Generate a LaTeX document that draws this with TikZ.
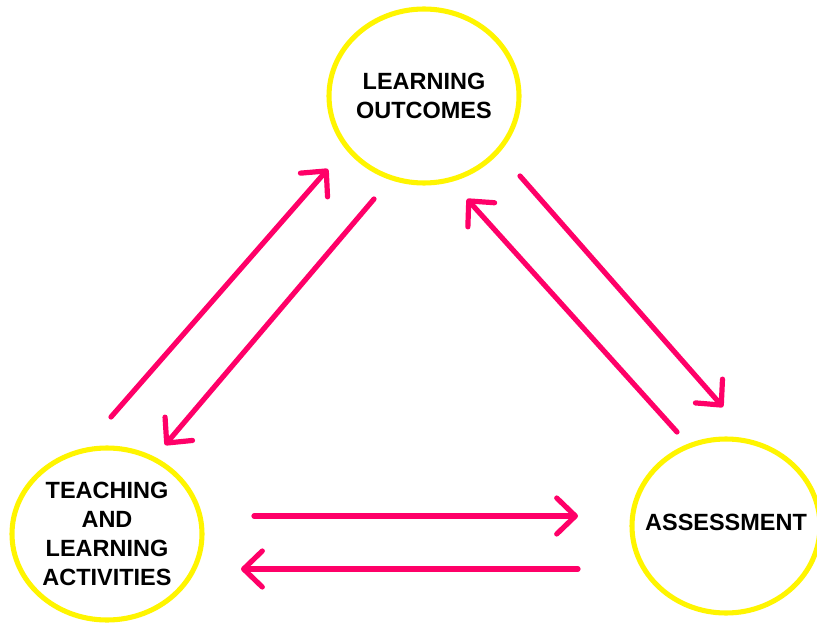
\documentclass[tikz,border=0pt]{standalone}
\usepackage{fontspec}
\setmainfont{Liberation Sans}
\usetikzlibrary{shapes.geometric,arrows.meta}
\definecolor{ringyellow}{RGB}{255,245,0}
\definecolor{flowpink}{RGB}{255,0,104}
\begin{document}
\begin{tikzpicture}[x=0.75pt,y=-0.75pt,
  stage/.style={ellipse,draw=ringyellow,line width=3.8pt,inner sep=0pt},
  stagetext/.style={align=center,inner sep=0pt,
    font=\fontsize{17.6pt}{21.6pt}\selectfont\bfseries},
  flow/.style={draw=flowpink,line width=3.9pt,line cap=round,
    -{Straight Barb[length=14pt,width=27pt,round]}}]
\useasboundingbox (0,0) rectangle (817,624);
\fill[white] (0,0) rectangle (817,624);

% the three stages: rings, then their captions
\node[stage,minimum width=142.5pt,minimum height=130.5pt] (lo) at (424,96) {};
\node[stage,minimum width=142.5pt,minimum height=129pt] (tla) at (107,534) {};
\node[stage,minimum width=141pt,minimum height=130.5pt] (as) at (726,526) {};

\node[stagetext] (loText) at (lo) {LEARNING\\OUTCOMES};
\node[stagetext] (tlaText) at (tla) {TEACHING\\AND\\LEARNING\\ACTIVITIES};
\node[stagetext,yshift=3pt] (asText) at (as) {ASSESSMENT};

% connector end points
\coordinate (tlaUp)   at (111,417);
\coordinate (loIn1)   at (328,169);
\coordinate (loOut1)  at (374,199);
\coordinate (tlaIn)   at (165,445);
\coordinate (loOut2)  at (520,176);
\coordinate (asIn1)   at (723,407);
\coordinate (asUp)    at (677,432);
\coordinate (loIn2)   at (467,199);
\coordinate (tlaOut)  at (254,516);
\coordinate (asIn2)   at (578,516);
\coordinate (asOut)   at (578,569);
\coordinate (tlaIn2)  at (241,569);

\draw[flow] (tlaUp) -- (loIn1);
\draw[flow] (loOut1) -- (tlaIn);
\draw[flow] (loOut2) -- (asIn1);
\draw[flow] (asUp) -- (loIn2);
\draw[flow] (tlaOut) -- (asIn2);
\draw[flow] (asOut) -- (tlaIn2);
\end{tikzpicture}
\end{document}
